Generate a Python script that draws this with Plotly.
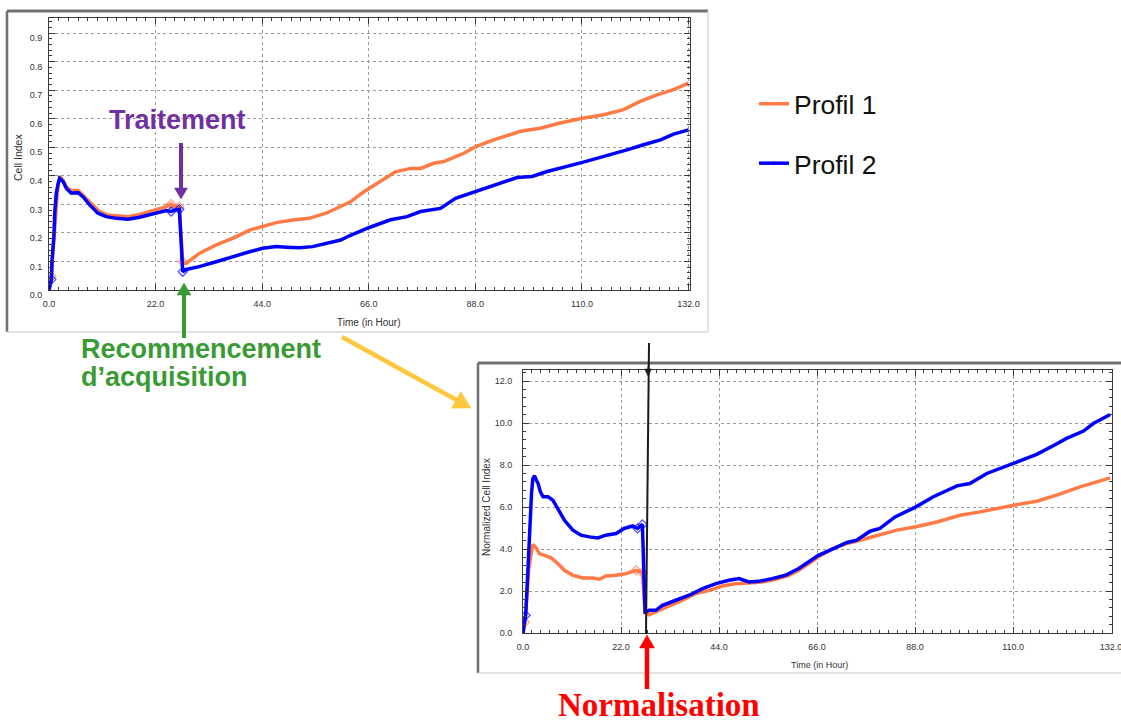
import plotly.graph_objects as go

W, H = 1121, 722

# ---------------- data ----------------
series_names = ["Profil 1", "Profil 2"]

# Raw Cell Index (top chart)
time_raw_p1 = [0, 0.5, 0.9, 1.3, 1.7, 2.2, 2.9, 3.6, 4.6, 6.0, 7.7, 9.0, 10.4, 12.0, 13.9, 16.3,
               18.7, 21.4, 24.2, 25.2, 25.9, 26.9, 27.6, 28.3, 31.0, 34.5, 37.9, 41.4, 44.1, 46.9,
               50.3, 53.7, 57.2, 60.2, 62.2, 65.0, 68.4, 71.5, 74.6, 76.7, 79.4, 81.5, 85.6, 88.2,
               91.8, 97.3, 101.4, 105.5, 110.1, 114.5, 118.6, 122.0, 125.5, 128.9, 132.0]
ci_p1 = [0.0, 0.047, 0.15, 0.26, 0.34, 0.398, 0.385, 0.36, 0.349, 0.349, 0.322, 0.30, 0.275, 0.263,
         0.259, 0.257, 0.265, 0.278, 0.292, 0.301, 0.292, 0.292, 0.099, 0.093, 0.128, 0.158, 0.181,
         0.210, 0.222, 0.236, 0.245, 0.251, 0.269, 0.291, 0.309, 0.344, 0.379, 0.414, 0.426, 0.426,
         0.444, 0.450, 0.479, 0.503, 0.526, 0.556, 0.567, 0.585, 0.602, 0.614, 0.632, 0.661, 0.684,
         0.702, 0.725]

time_raw_p2 = [0, 0.5, 0.6, 1.0, 1.2, 1.5, 1.9, 2.2, 2.9, 3.6, 4.6, 6.0, 7.0, 8.4, 10.1, 11.8, 13.9,
               16.3, 18.7, 21.4, 24.2, 25.2, 25.9, 26.9, 27.6, 28.3, 31.0, 34.5, 37.9, 41.4, 44.1,
               46.9, 49.0, 51.7, 54.4, 58.6, 60.2, 62.0, 66.1, 70.5, 73.9, 76.7, 80.8, 83.9, 88.2,
               91.8, 96.6, 99.7, 102.8, 110.1, 115.2, 119.3, 122.7, 126.2, 128.9, 132.0]
ci_p2 = [0.0, 0.037, 0.099, 0.187, 0.275, 0.339, 0.374, 0.391, 0.380, 0.356, 0.339, 0.341, 0.327,
         0.298, 0.269, 0.257, 0.251, 0.248, 0.255, 0.265, 0.278, 0.275, 0.280, 0.283, 0.064, 0.072,
         0.082, 0.099, 0.117, 0.134, 0.146, 0.152, 0.150, 0.148, 0.152, 0.169, 0.175, 0.19, 0.219,
         0.246, 0.257, 0.275, 0.286, 0.321, 0.345, 0.368, 0.394, 0.398, 0.415, 0.447, 0.470, 0.491,
         0.509, 0.526, 0.546, 0.561]

# Normalized Cell Index (bottom chart)
time_norm_p1 = [0, 0.4, 0.9, 1.3, 1.9, 2.2, 2.8, 3.7, 4.8, 6.3, 7.8, 9.3, 11.2, 13.4, 15.7, 17.2,
                18.6, 20.9, 23.1, 25.4, 26.8, 27.4, 28.3, 29.8, 32.8, 35.8, 38.8, 41.8, 44.7, 47.7,
                50.7, 53.7, 56.7, 59.7, 61.9, 66.3, 69.7, 72.7, 77.1, 80.1, 83.9, 88.2, 92.9, 98.1,
                102.6, 110.2, 115.3, 119.8, 125.0, 131.8]
nci_p1 = [0, 0.52, 1.8, 3.07, 3.86, 4.21, 4.10, 3.78, 3.70, 3.58, 3.31, 2.99, 2.75, 2.62, 2.62,
          2.56, 2.72, 2.75, 2.83, 2.99, 2.88, 1.0, 0.87, 1.0, 1.29, 1.56, 1.88, 2.03, 2.24, 2.35,
          2.38, 2.43, 2.56, 2.75, 2.99, 3.62, 4.05, 4.26, 4.50, 4.66, 4.90, 5.06, 5.29, 5.61, 5.77,
          6.09, 6.28, 6.57, 6.96, 7.39]

time_norm_p2 = [0, 0.6, 0.9, 1.2, 1.5, 1.9, 2.2, 2.6, 3.0, 3.4, 3.9, 4.5, 5.6, 6.7, 7.8, 9.3, 11.2,
                13.0, 14.9, 16.8, 18.6, 20.9, 22.7, 24.6, 25.7, 26.8, 27.4, 28.3, 29.8, 31.3, 34.3,
                37.3, 40.3, 43.3, 46.2, 48.5, 50.7, 52.9, 55.9, 58.9, 61.9, 66.3, 69.7, 72.7, 74.9,
                77.9, 80.1, 83.5, 88.2, 92.1, 97.4, 100.3, 104.1, 110.2, 115.3, 119.0, 122.0, 125.8,
                128.0, 131.8]
nci_p2 = [0, 0.84, 2.1, 3.7, 5.3, 6.6, 7.36, 7.49, 7.28, 7.12, 6.72, 6.49, 6.49, 6.33, 5.93, 5.37,
          4.90, 4.66, 4.58, 4.53, 4.66, 4.74, 4.98, 5.10, 4.98, 5.17, 1.0, 1.08, 1.08, 1.32, 1.56,
          1.80, 2.11, 2.35, 2.51, 2.59, 2.43, 2.46, 2.59, 2.75, 3.07, 3.70, 4.02, 4.31, 4.42, 4.85,
          4.98, 5.53, 6.01, 6.49, 7.01, 7.12, 7.60, 8.08, 8.51, 8.92, 9.27, 9.62, 9.98, 10.41]

# time points drawn with an open diamond in the instrument software
diamond_times_raw = [0.5, 25.2, 26.9, 27.6]
diamond_times_norm_p1 = [0.4, 25.4, 26.8]
diamond_times_norm_p2 = [0.6, 25.7, 26.8]

x_ticks = [0.0, 22.0, 44.0, 66.0, 88.0, 110.0, 132.0]
raw_y_ticks = [0.0, 0.1, 0.2, 0.3, 0.4, 0.5, 0.6, 0.7, 0.8, 0.9]
norm_y_ticks = [0.0, 2.0, 4.0, 6.0, 8.0, 10.0, 12.0]

# ---------------- styling helpers ----------------
ORANGE = "#FF7A45"
BLUE = "#0000FF"
SANS = "Liberation Sans, Arial, sans-serif"


def fx(px):
    return px / W


def fy(py):
    return 1 - py / H


fig = go.Figure()


def add_series(name, t, v, col, grp, dtimes, xa, ya, show):
    sizes = [7 if ti in dtimes else 0 for ti in t]
    fig.add_trace(go.Scatter(x=t, y=v, mode="lines+markers", name=name, legendgroup=grp,
                             showlegend=show, line=dict(color=col, width=3.5),
                             marker=dict(symbol="diamond-open", size=sizes, color=col,
                                         line=dict(color=col, width=1.2)),
                             xaxis=xa, yaxis=ya))


add_series(series_names[0], time_raw_p1, ci_p1, ORANGE, "p1", diamond_times_raw, "x", "y", True)
add_series(series_names[1], time_raw_p2, ci_p2, BLUE, "p2", diamond_times_raw, "x", "y", True)
add_series(series_names[0], time_norm_p1, nci_p1, ORANGE, "p1", diamond_times_norm_p1, "x2", "y2", False)
add_series(series_names[1], time_norm_p2, nci_p2, BLUE, "p2", diamond_times_norm_p2, "x2", "y2", False)


def axis_style(dtick, minor_dtick, fmt):
    return dict(showline=True, linecolor="#3a3a3a", linewidth=1, mirror="allticks",
                ticks="inside", ticklen=6, tickcolor="#3a3a3a", tickwidth=1,
                showgrid=True, gridcolor="#9a9a9a", griddash="dot", gridwidth=1,
                zeroline=False, tickmode="linear", tick0=0, dtick=dtick, tickformat=fmt,
                tickfont=dict(family=SANS, size=9, color="#333333"), fixedrange=True,
                automargin=False,
                minor=dict(ticks="inside", ticklen=3, tickcolor="#3a3a3a", dtick=minor_dtick,
                           showgrid=False))


xdt = x_ticks[1] - x_ticks[0]
fig.update_layout(
    xaxis=dict(axis_style(xdt, 2, ".1f"), domain=[fx(49), fx(690)], range=[0, 132.3], anchor="y",
               ticklabelstandoff=5, ticklabeloverflow="allow"),
    yaxis=dict(axis_style(raw_y_ticks[1] - raw_y_ticks[0], 0.02, ".1f"), domain=[fy(290), fy(18)],
               range=[0, 0.953], anchor="x", ticklabelshift=5, ticklabelstandoff=4),
    xaxis2=dict(axis_style(xdt, 2, ".1f"), domain=[fx(523), fx(1112)], range=[0, 132.2], anchor="y2",
                ticklabelstandoff=5, ticklabeloverflow="allow"),
    yaxis2=dict(axis_style(norm_y_ticks[1] - norm_y_ticks[0], 0.4, ".1f"), domain=[fy(633), fy(370)],
                range=[0, 12.53], anchor="x2", ticklabelstandoff=8),
)

shapes = []


def seg(x0, y0, x1, y1, color, width):
    shapes.append(dict(type="line", xref="paper", yref="paper", x0=fx(x0), y0=fy(y0),
                       x1=fx(x1), y1=fy(y1), line=dict(color=color, width=width), layer="above"))


def arrow(x0, y0, x1, y1, color, width, hl, hw):
    dx, dy = x1 - x0, y1 - y0
    L = (dx * dx + dy * dy) ** 0.5
    ux, uy = dx / L, dy / L
    bx, by = x1 - ux * hl, y1 - uy * hl
    px_, py_ = -uy, ux
    seg(x0, y0, bx + ux * 1, by + uy * 1, color, width)
    p = "M{},{} L{},{} L{},{} Z".format(fx(x1), fy(y1),
                                        fx(bx + px_ * hw / 2), fy(by + py_ * hw / 2),
                                        fx(bx - px_ * hw / 2), fy(by - py_ * hw / 2))
    shapes.append(dict(type="path", xref="paper", yref="paper", path=p, fillcolor=color,
                       line=dict(color=color, width=0.5), layer="above"))


DARK = "#707070"
LIGHT = "#dcd8d2"
# top panel frame
seg(7, 11, 708, 11, DARK, 3)
seg(7, 11, 7, 332, DARK, 2.5)
seg(708, 11, 708, 332, LIGHT, 1.5)
seg(7, 332, 708, 332, LIGHT, 1.5)
# bottom panel frame
seg(478, 363, 1121, 363, DARK, 3)
seg(478, 363, 478, 673, DARK, 2.5)
seg(478, 673, 1121, 673, LIGHT, 1.5)

# arrows
arrow(181, 143, 181, 199, "#7030A0", 4, 11, 13)
arrow(184, 338, 184, 283, "#3A9B35", 4, 12, 14)
arrow(342, 337, 471, 408, "#FFC83C", 4.5, 17, 19)
arrow(647, 689, 647, 635, "#FF0000", 4.5, 13, 15)
seg(649, 343, 646, 634, "#1a1a1a", 2)
arrow(648, 366, 648, 376, "#1a1a1a", 1, 7, 7)

fig.update_layout(shapes=shapes)

annotations = [
    dict(text="<b>Traitement</b>", x=fx(177.5), y=fy(120), xanchor="center", yanchor="middle",
         font=dict(family=SANS, size=27, color="#7030A0")),
    dict(text="<b>Recommencement</b>", x=fx(79), y=fy(349), xanchor="left", yanchor="middle",
         font=dict(family=SANS, size=27, color="#3A9B35")),
    dict(text="<b>d’acquisition</b>", x=fx(79), y=fy(377), xanchor="left", yanchor="middle",
         font=dict(family=SANS, size=27, color="#3A9B35")),
    dict(text="<b>Normalisation</b>", x=fx(658.5), y=fy(705), xanchor="center", yanchor="middle",
         height=34, valign="middle",
         font=dict(family="Liberation Serif, Times New Roman, serif", size=33, color="#FF0000")),
    dict(text="Cell Index", x=fx(18), y=fy(158), textangle=-90, xanchor="center", yanchor="middle",
         font=dict(family=SANS, size=10.5, color="#333333")),
    dict(text="Time (in Hour)", x=fx(369), y=fy(322), xanchor="center", yanchor="middle",
         font=dict(family=SANS, size=10, color="#333333")),
    dict(text="Normalized Cell Index", x=fx(487), y=fy(507), textangle=-90, xanchor="center",
         yanchor="middle", font=dict(family=SANS, size=10, color="#333333")),
    dict(text="Time (in Hour)", x=fx(819), y=fy(665), xanchor="center", yanchor="middle",
         font=dict(family=SANS, size=9, color="#333333")),
]
for a in annotations:
    a.update(xref="paper", yref="paper", showarrow=False)
fig.update_layout(annotations=annotations)

fig.update_layout(
    width=W, height=H, autosize=False,
    margin=dict(l=0, r=0, t=0, b=0, pad=0, autoexpand=False),
    paper_bgcolor="white", plot_bgcolor="white",
    showlegend=True,
    legend=dict(x=fx(754), y=fy(80), xanchor="left", yanchor="top", traceorder="grouped",
                tracegroupgap=22, bgcolor="rgba(0,0,0,0)",
                font=dict(family=SANS, size=26.5, color="#111111")),
)

fig.write_html("out.html", config={"displayModeBar": False},
               post_script="document.body.style.margin='0';document.body.style.overflow='hidden';")
